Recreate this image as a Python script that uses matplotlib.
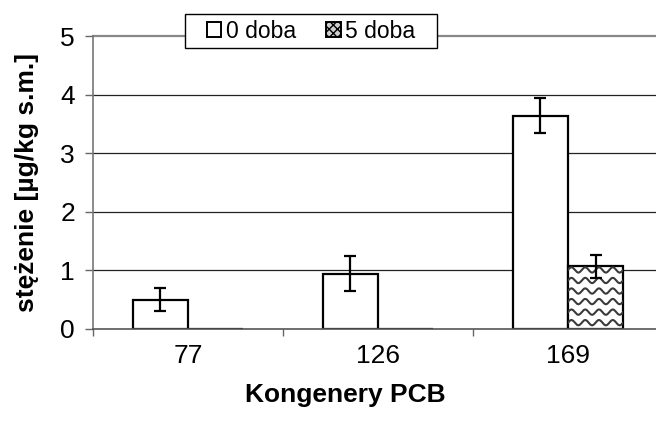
import numpy as np
import matplotlib
matplotlib.use("Agg")
import matplotlib.pyplot as plt
from matplotlib.patches import Patch, Rectangle
from matplotlib.ticker import FixedLocator

plt.rcParams['font.family'] = ['Liberation Sans', 'DejaVu Sans']

categories = ['77', '126', '169']
series_names = ['0 doba', '5 doba']
vals_0 = [0.50, 0.94, 3.64]
err_0 = [0.20, 0.30, 0.30]
vals_5 = [0.0, 0.0, 1.07]
err_5 = [None, None, 0.20]

FS = 19
FS_LEG = 16.5
W, H = 656, 421
fig = plt.figure(figsize=(W / 100, H / 100), dpi=100)
ax = fig.add_axes([93 / W, 92 / H, (663 - 93) / W, (385 - 92) / H])

x = np.arange(len(categories)) + 0.5
bw = 0.29

ax.set_xlim(0, 3)
ax.set_ylim(0, 5)

for yv in [1, 2, 3, 4]:
    ax.axhline(yv, color='#222222', lw=0.9, zorder=0)
ax.axhline(5, color='#888888', lw=1.6, zorder=0, clip_on=False)

b0 = ax.bar(x - bw / 2, vals_0, bw, color='white', edgecolor='black', lw=1.6, zorder=2)
b5 = ax.bar(x + bw / 2, vals_5, bw, color='white', edgecolor='black', lw=1.6, zorder=2)

# wavy hatch inside 5-doba bars
for rect in b5:
    h = rect.get_height()
    if h <= 0:
        continue
    x0 = rect.get_x()
    w = rect.get_width()
    xs = np.linspace(x0, x0 + w, 200)
    period = w / 4.0
    amp = 0.045
    spacing = 0.18
    yc = spacing * 0.6
    while yc < h + amp:
        ys = yc + amp * np.sin(2 * np.pi * (xs - x0) / period)
        ln, = ax.plot(xs, ys, color='#3a3a3a', lw=1.5, zorder=2.5)
        ln.set_clip_path(rect)
        yc += spacing

ax.errorbar(x - bw / 2, vals_0, yerr=err_0, fmt='none', ecolor='black',
            elinewidth=1.6, capsize=4.5, capthick=1.6, zorder=3)
xe = [xi + bw / 2 for xi, e in zip(x, err_5) if e is not None]
ye = [v for v, e in zip(vals_5, err_5) if e is not None]
ee = [e for e in err_5 if e is not None]
ax.errorbar(xe, ye, yerr=ee, fmt='none', ecolor='black',
            elinewidth=1.6, capsize=4.5, capthick=1.6, zorder=3)

for s in ['top', 'right']:
    ax.spines[s].set_visible(False)
ax.spines['left'].set_color('#777777')
ax.spines['left'].set_linewidth(1.2)
ax.spines['bottom'].set_color('#555555')
ax.spines['bottom'].set_linewidth(1.2)

ax.set_yticks([0, 1, 2, 3, 4, 5])
ax.set_yticklabels(['0', '1', '2', '3', '4', '5'], fontsize=FS)
ax.tick_params(axis='y', direction='out', length=6, width=1.0, color='#666666', pad=7)

ax.xaxis.set_major_locator(FixedLocator([0, 1, 2, 3]))
ax.xaxis.set_major_formatter(plt.NullFormatter())
ax.xaxis.set_minor_locator(FixedLocator(list(x)))
ax.set_xticklabels(categories, minor=True, fontsize=FS)
ax.tick_params(axis='x', which='minor', length=0, pad=11)
ax.tick_params(axis='x', which='major', direction='out', length=5, width=1.0, color='#666666')

fig.text(27 / W, (421 - 183) / H, 'stężenie [µg/kg s.m.]', fontsize=FS,
         fontweight='bold', rotation=90, ha='center', va='center')
fig.text(345 / W, (421 - 395) / H, 'Kongenery PCB', fontsize=FS,
         fontweight='bold', ha='center', va='center')

# legend frame
fig.patches.append(Rectangle((185 / W, (421 - 48) / H), (437 - 185) / W, 34 / H,
                             transform=fig.transFigure, facecolor='white',
                             edgecolor='black', lw=1.0, zorder=1))
handles = [Patch(facecolor='white', edgecolor='black', lw=1.4, label=series_names[0]),
           Patch(facecolor='#cfcfcf', edgecolor='black', lw=1.4, hatch='xxxx', label=series_names[1])]
leg = fig.legend(handles=handles, loc='center', bbox_to_anchor=(311 / W, (421 - 31) / H),
                 ncol=2, frameon=False, fontsize=FS_LEG,
                 handlelength=0.65, handleheight=0.65, handletextpad=0.2,
                 columnspacing=1.3, borderpad=0.3)
leg.set_zorder(5)

fig.savefig('out.png', dpi=100)
